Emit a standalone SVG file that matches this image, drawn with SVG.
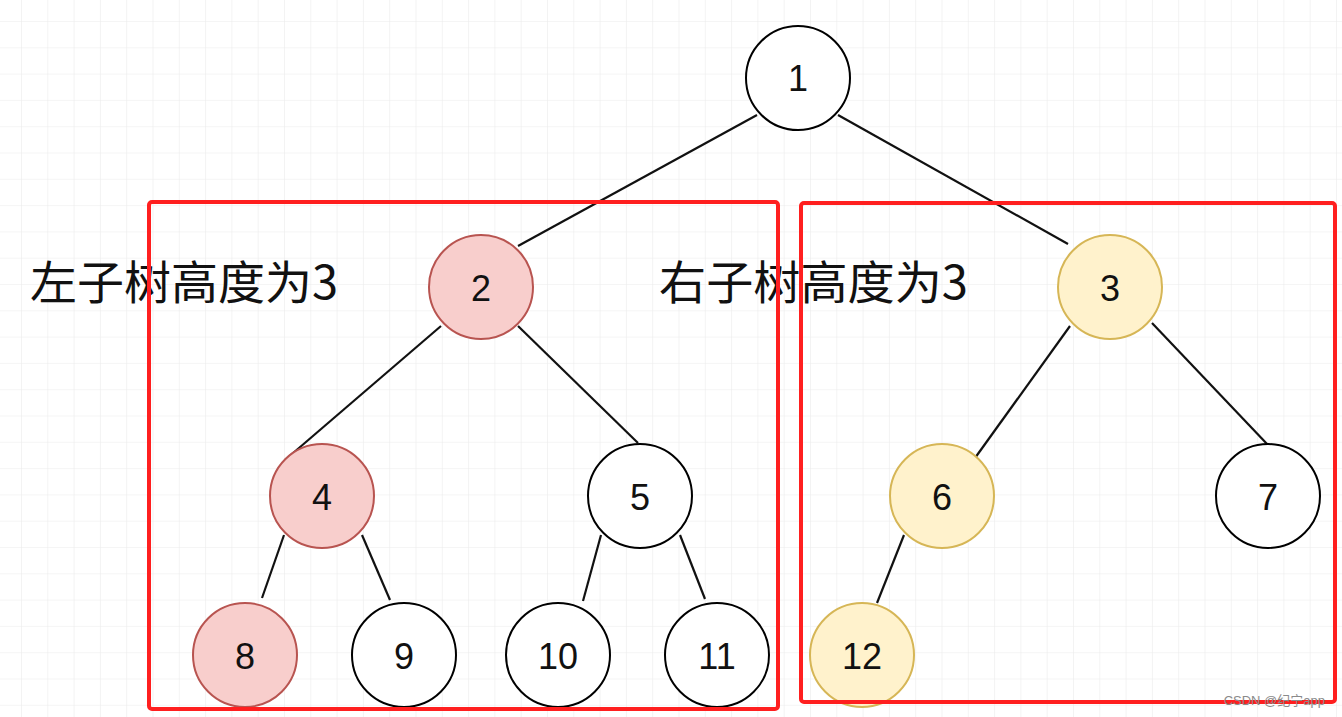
<svg xmlns="http://www.w3.org/2000/svg" width="1342" height="717" viewBox="0 0 1342 717">
<defs>
<pattern id="grid" x="21" y="21" width="26.3" height="26.3" patternUnits="userSpaceOnUse">
<path d="M0 0 H26.3 M0 0 V26.3" fill="none" stroke="#ececec" stroke-width="1.2"/>
</pattern>
</defs>
<style>
.node circle{stroke-width:2}
.w circle{fill:#ffffff;stroke:#000000}
.r circle{fill:#f8cecc;stroke:#b85450}
.y circle{fill:#fff2cc;stroke:#d6b656}
.node text{font-family:"Liberation Sans",Arial,sans-serif;font-size:36px;fill:#111;text-anchor:middle;dominant-baseline:central}
.lbl{font-family:"Noto Sans CJK SC","Liberation Sans",sans-serif;font-size:46px;fill:#111}
#edges line{stroke:#111;stroke-width:2.2}
.box{fill:none;stroke:#ff1f1f;stroke-width:4}
</style>
<rect width="1342" height="717" fill="#ffffff"/>
<rect width="1342" height="717" fill="url(#grid)"/>
<g id="edges">
<line x1="757" y1="115" x2="518" y2="246"/>
<line x1="838" y1="115" x2="1068" y2="244"/>
<line x1="441" y1="326" x2="285" y2="460"/>
<line x1="518" y1="326" x2="638" y2="443"/>
<line x1="284" y1="535" x2="262" y2="598"/>
<line x1="362" y1="535" x2="390" y2="600"/>
<line x1="601" y1="535" x2="583" y2="601"/>
<line x1="680" y1="535" x2="705" y2="599"/>
<line x1="1070" y1="326" x2="975" y2="458"/>
<line x1="1152" y1="323" x2="1268" y2="445"/>
<line x1="904" y1="535" x2="877" y2="603"/>
</g>
<g id="n1" class="node w"><circle cx="798" cy="78" r="52"/><text x="798" y="78">1</text></g>
<g id="n2" class="node r"><circle cx="481" cy="287" r="52"/><text x="481" y="288">2</text></g>
<g id="n3" class="node y"><circle cx="1110" cy="287" r="52"/><text x="1110" y="288">3</text></g>
<g id="n4" class="node r"><circle cx="322" cy="496" r="52"/><text x="322" y="497">4</text></g>
<g id="n5" class="node w"><circle cx="640" cy="496" r="52"/><text x="640" y="497">5</text></g>
<g id="n6" class="node y"><circle cx="942" cy="496" r="52"/><text x="942" y="497">6</text></g>
<g id="n7" class="node w"><circle cx="1268" cy="496" r="52"/><text x="1268" y="497">7</text></g>
<g id="n8" class="node r"><circle cx="245" cy="655" r="52"/><text x="245" y="656">8</text></g>
<g id="n9" class="node w"><circle cx="404" cy="655" r="52"/><text x="404" y="656">9</text></g>
<g id="n10" class="node w"><circle cx="558" cy="655" r="52"/><text x="558" y="656">10</text></g>
<g id="n11" class="node w"><circle cx="717" cy="655" r="52"/><text x="717" y="656">11</text></g>
<g id="n12" class="node y"><circle cx="862" cy="655" r="52"/><text x="862" y="656">12</text></g>
<g id="labels">
<text class="lbl" x="30" y="299" textLength="308" lengthAdjust="spacingAndGlyphs">左子树高度为3</text>
<text class="lbl" x="659" y="299" textLength="309" lengthAdjust="spacingAndGlyphs">右子树高度为3</text>
</g>
<g id="boxes">
<rect class="box" x="149" y="202" width="629" height="507" rx="3"/>
<rect class="box" x="801" y="203" width="534" height="499" rx="3"/>
</g>
<text x="1325" y="705" font-family="'Liberation Sans','Noto Sans CJK SC',sans-serif" font-size="13" fill="#8a8a8a" text-anchor="end">CSDN @纪宁app</text>
</svg>
